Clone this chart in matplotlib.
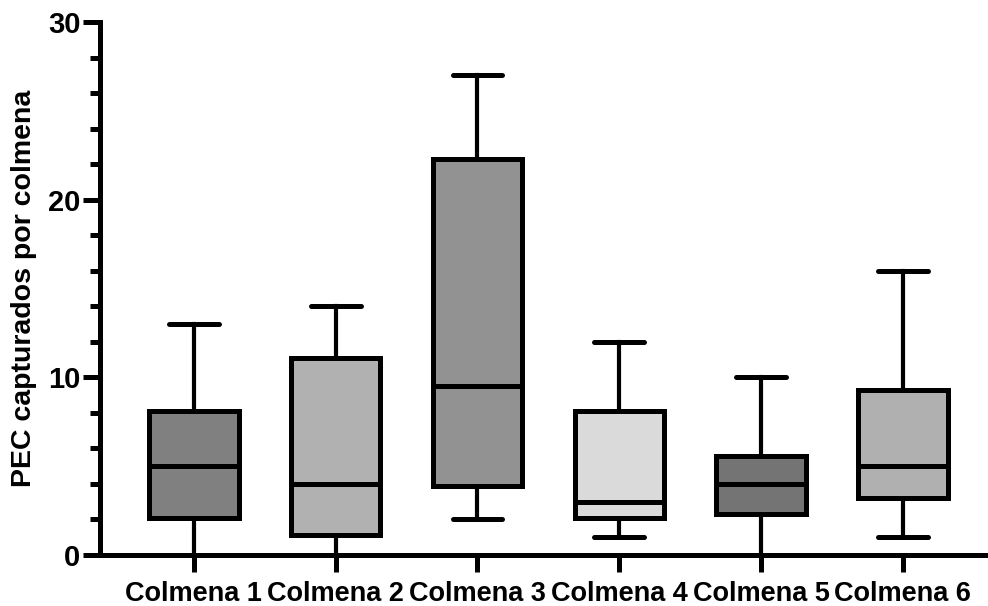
import matplotlib
matplotlib.use("Agg")
import matplotlib.pyplot as plt
from matplotlib.ticker import MultipleLocator

plt.rcParams['font.family'] = ['Liberation Sans', 'DejaVu Sans']
plt.rcParams['font.weight'] = 'bold'

# datos
categorias = ["Colmena 1", "Colmena 2", "Colmena 3", "Colmena 4", "Colmena 5", "Colmena 6"]
bigote_min = [0, 0, 2, 1, 0, 1]
q1 = [2.1, 1.1, 3.9, 2.1, 2.3, 3.2]
mediana = [5, 4, 9.5, 3, 4, 5]
q3 = [8.1, 11.1, 22.3, 8.1, 5.6, 9.3]
bigote_max = [13, 14, 27, 12, 10, 16]
colores = ["#808080", "#b1b1b1", "#929292", "#dadada", "#747474", "#b0b0b0"]

stats = []
for i, nombre in enumerate(categorias):
    stats.append(dict(label=nombre, whislo=bigote_min[i], q1=q1[i], med=mediana[i],
                      q3=q3[i], whishi=bigote_max[i], fliers=[]))

fig = plt.figure(figsize=(9.88, 6.06), dpi=100)
ax = fig.add_axes([100 / 988, 51 / 606, 888 / 988, 533 / 606])

lw = 3.6
bp = ax.bxp(stats, positions=range(1, 7), widths=0.63, patch_artist=True,
            showfliers=False, capwidths=0.35,
            boxprops=dict(linewidth=lw, edgecolor='black'),
            medianprops=dict(color='black', linewidth=lw),
            whiskerprops=dict(color='black', linewidth=3.0),
            capprops=dict(color='black', linewidth=lw, solid_capstyle='round'))
for caja, c in zip(bp['boxes'], colores):
    caja.set_facecolor(c)
    caja.set_zorder(3)
for m in bp['medians']:
    m.set_zorder(4)
for w in bp['whiskers']:
    w.set_zorder(2)

ax.set_xlim(0.338, 6.6)
ax.set_ylim(0, 30)
ax.yaxis.set_major_locator(MultipleLocator(10))
ax.yaxis.set_minor_locator(MultipleLocator(2))

for s in ['top', 'right']:
    ax.spines[s].set_visible(False)
for s in ['left', 'bottom']:
    ax.spines[s].set_linewidth(lw)
ax.spines['bottom'].set_zorder(1)

ax.tick_params(axis='y', which='major', length=12, width=lw, labelsize=21, pad=2)
ax.tick_params(axis='y', which='minor', length=7, width=lw)
ax.tick_params(axis='x', which='major', length=12, width=lw, labelsize=19.5, pad=7)

for t in ax.get_xticklabels() + ax.get_yticklabels():
    t.set_fontweight('bold')

ax.set_ylabel("PEC capturados por colmena", fontsize=20.5, fontweight='bold', labelpad=8)

fig.savefig("out.png", dpi=100)
